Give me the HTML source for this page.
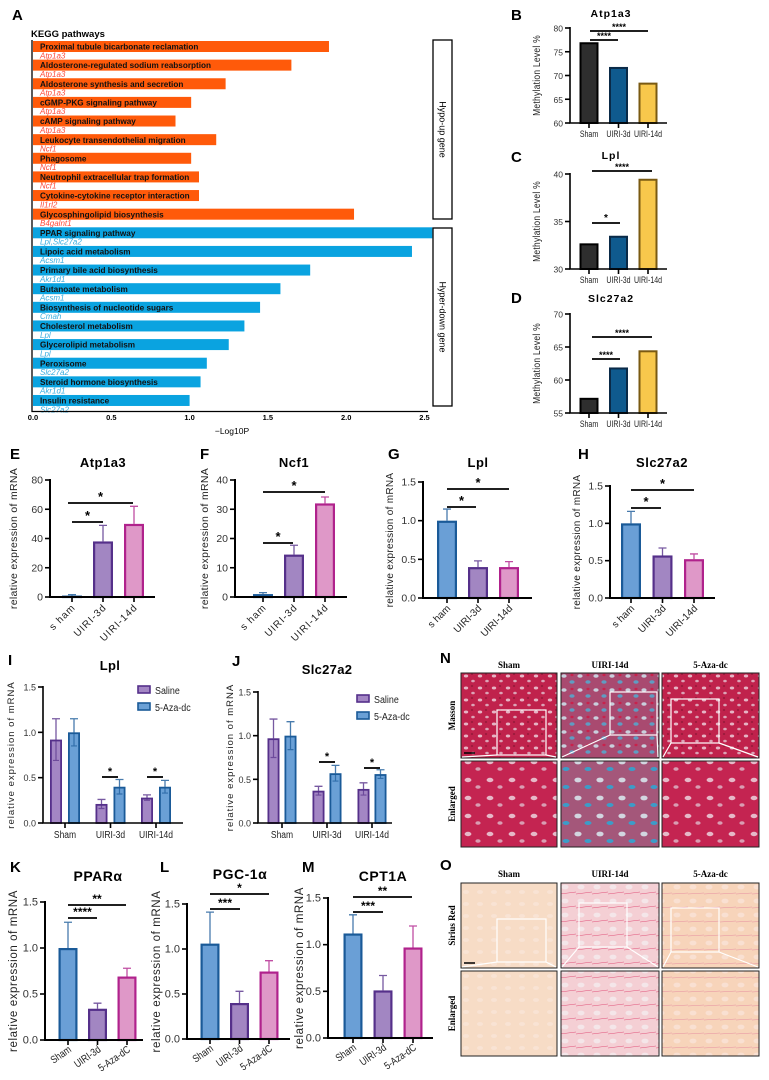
<!DOCTYPE html>
<html><head><meta charset="utf-8">
<style>
html,body{margin:0;padding:0;background:#fff;}
svg{display:block;font-family:"Liberation Sans",sans-serif;}
</style></head>
<body>
<svg id="fig" width="769" height="1080" viewBox="0 0 769 1080" xmlns="http://www.w3.org/2000/svg">
<defs>
<pattern id="masson" width="14" height="12" patternUnits="userSpaceOnUse">
<rect width="14" height="12" fill="#c0224c"/>
<ellipse cx="4" cy="4" rx="2.2" ry="1.5" fill="#e6b4c4"/>
<ellipse cx="11" cy="9" rx="1.8" ry="1.3" fill="#dca3b6"/>
<ellipse cx="10" cy="2" rx="1.2" ry="1" fill="#9a1a3c"/>
</pattern>
<pattern id="massonF" width="16" height="14" patternUnits="userSpaceOnUse">
<rect width="16" height="14" fill="#a94a70"/>
<ellipse cx="4" cy="4" rx="2.6" ry="1.8" fill="#c9cfdc"/>
<ellipse cx="12" cy="10" rx="2.6" ry="1.8" fill="#5f9cc2"/>
<ellipse cx="12" cy="3" rx="1.6" ry="1.2" fill="#c8224c"/>
</pattern>
<pattern id="massonE" width="22" height="18" patternUnits="userSpaceOnUse">
<rect width="22" height="18" fill="#c42451"/>
<ellipse cx="6" cy="6" rx="3.4" ry="2.2" fill="#e6b8c8"/>
<ellipse cx="16" cy="13" rx="2.6" ry="1.8" fill="#d99db2"/>
</pattern>
<pattern id="massonEF" width="22" height="18" patternUnits="userSpaceOnUse">
<rect width="22" height="18" fill="#a4577a"/>
<ellipse cx="6" cy="6" rx="3.6" ry="2.4" fill="#d2d6e0"/>
<ellipse cx="16" cy="13" rx="3.5" ry="2" fill="#3c9cc8"/>
</pattern>
<pattern id="sirius" width="14" height="12" patternUnits="userSpaceOnUse">
<rect width="14" height="12" fill="#f7dcc6"/>
<ellipse cx="4" cy="4" rx="3" ry="2" fill="#f9e3d4"/>
</pattern>
<pattern id="siriusF" width="16" height="14" patternUnits="userSpaceOnUse">
<rect width="16" height="14" fill="#f4cfd4"/>
<ellipse cx="5" cy="5" rx="3.5" ry="2.4" fill="#f4e6e9"/>
<path d="M0 12 L16 10" stroke="#e0507a" stroke-width="0.6"/>
</pattern>
<pattern id="siriusA" width="16" height="14" patternUnits="userSpaceOnUse">
<rect width="16" height="14" fill="#f7d4ba"/>
<ellipse cx="5" cy="5" rx="3.5" ry="2.4" fill="#f9e0d2"/>
<path d="M0 12 L16 11" stroke="#e78ea0" stroke-width="0.5"/>
</pattern>
</defs>
</svg>
<script>
// ---------------- DATA ----------------
const keggPathways = ["Proximal tubule bicarbonate reclamation","Aldosterone-regulated sodium reabsorption","Aldosterone synthesis and secretion","cGMP-PKG signaling pathway","cAMP signaling pathway","Leukocyte transendothelial migration","Phagosome","Neutrophil extracellular trap formation","Cytokine-cytokine receptor interaction","Glycosphingolipid biosynthesis","PPAR signaling pathway","Lipoic acid metabolism","Primary bile acid biosynthesis","Butanoate metabolism","Biosynthesis of nucleotide sugars","Cholesterol metabolism","Glycerolipid metabolism","Peroxisome","Steroid hormone biosynthesis","Insulin resistance"];
const keggGenes = ["Atp1a3","Atp1a3","Atp1a3","Atp1a3","Atp1a3","Ncf1","Ncf1","Ncf1","Il1rl2","B4galnt1","Lpl,Slc27a2","Acsm1","Akr1d1","Acsm1","Cmah","Lpl","Lpl","Slc27a2","Akr1d1","Slc27a2"];
const keggValues = [1.89,1.65,1.23,1.01,0.91,1.17,1.01,1.06,1.06,2.05,2.55,2.42,1.77,1.58,1.45,1.35,1.25,1.11,1.07,1.00];
const keggGroup = ["up","up","up","up","up","up","up","up","up","up","down","down","down","down","down","down","down","down","down","down"];
const keggTicks = [0,0.5,1.0,1.5,2.0,2.5];

const methCats = ["Sham","UIRI-3d","UIRI-14d"];
const bVals = [77.0,71.8,68.5];
const bTicks = [60,65,70,75,80];
const cVals = [32.7,33.5,39.5];
const cTicks = [30,35,40];
const dVals = [57.3,61.9,64.5];
const dTicks = [55,60,65,70];

const ehCats = ["s ham","UIRI-3d","UIRI-14d"];
const eVals = [1.0,38,50];
const eErr = [0.6,11,12];
const eTicks = [0,20,40,60,80];
const fVals = [1.0,14.5,32];
const fErr = [0.5,3.2,2.2];
const fTicks = [0,10,20,30,40];
const gVals = [1.0,0.40,0.40];
const gErr = [0.15,0.08,0.07];
const gTicks = [0.0,0.5,1.0,1.5];
const hVals = [1.0,0.57,0.52];
const hErr = [0.16,0.10,0.07];
const hTicks = [0.0,0.5,1.0,1.5];

const ijCats = ["Sham","UIRI-3d","UIRI-14d"];
const iSaline = [0.92,0.21,0.28];
const iSalineErr = [0.23,0.05,0.03];
const iAza = [1.0,0.40,0.40];
const iAzaErr = [0.15,0.08,0.07];
const jSaline = [0.97,0.37,0.39];
const jSalineErr = [0.22,0.05,0.07];
const jAza = [1.0,0.57,0.56];
const jAzaErr = [0.16,0.09,0.05];
const ijTicks = [0.0,0.5,1.0,1.5];

const kmCats = ["Sham","UIRI-3d","5-Aza-dC"];
const kVals = [1.0,0.34,0.69];
const kErr = [0.28,0.06,0.09];
const lVals = [1.06,0.40,0.75];
const lErr = [0.35,0.13,0.12];
const mVals = [1.12,0.51,0.97];
const mErr = [0.20,0.16,0.23];
const kmTicks = [0.0,0.5,1.0,1.5];

// ---------------- HELPERS ----------------
const NS = "http://www.w3.org/2000/svg";
const svg = document.getElementById('fig');
function mk(tag, attrs, parent){
  const e = document.createElementNS(NS, tag);
  for (const k in attrs) e.setAttribute(k, attrs[k]);
  (parent || svg).appendChild(e);
  return e;
}
function txt(str, attrs, parent){
  const e = mk('text', attrs, parent);
  e.textContent = str;
  return e;
}
function grp(name){
  const g = mk('g', {});
  
  
  return g;
}

// ---------------- PANEL A ----------------
(function(){
  const g = grp('panel-a-kegg-chart');
  const x0 = 33, pxPerUnit = 156.6, top = 41, pitch = 18.63, bh = 11;
  const xs = v => x0 + v * pxPerUnit;
  let t = txt('A', {x:12, y:20, 'font-size':15, 'font-weight':'bold'}, g);
  
  
  t = txt('KEGG  pathways', {x:31, y:37, 'font-size':9.5, 'font-weight':'bold'}, g);
  
  
  keggValues.forEach((v, i) => {
    const y = top + i * pitch;
    const up = keggGroup[i] === 'up';
    const r = mk('rect', {x:x0, y:y, width:xs(v) - x0, height:bh, fill: up ? '#ff5a0a' : '#0aa3e0'}, g);
    
    
    const n = txt(keggPathways[i], {x:40, y:y + 8.6, 'font-size':8.2, 'font-weight':'bold', fill:'#111'}, g);
    
    
    const gn = txt(keggGenes[i], {x:40, y:y + 17.3, 'font-size':8, 'font-style':'italic', fill: up ? '#ff4a3a' : '#3aaee0'}, g);
    
    
  });
  let ax = mk('path', {d:'M32 40 V411.5 H428', stroke:'#000', 'stroke-width':1.3, fill:'none'}, g);
  
  
  keggTicks.forEach(v => {
    const l = txt(v.toFixed(1), {x:xs(v), y:420, 'font-size':7.5, 'font-weight':'bold', 'text-anchor':'middle'}, g);
    
    
  });
  t = txt('\u2212Log10P', {x:232, y:434, 'font-size':8.5, 'text-anchor':'middle'}, g);
  
  
  let b = mk('rect', {x:433, y:40, width:19, height:179, fill:'#fff', stroke:'#000', 'stroke-width':1.3}, g);
  
  
  t = txt('Hypo-up gene', {x:0, y:0, 'font-size':9, 'text-anchor':'middle', transform:'translate(439.5,129.5) rotate(90)'}, g);
  
  
  b = mk('rect', {x:433, y:228, width:19, height:178, fill:'#fff', stroke:'#000', 'stroke-width':1.3}, g);
  
  
  t = txt('Hyper-down gene', {x:0, y:0, 'font-size':9, 'text-anchor':'middle', transform:'translate(439.5,317) rotate(90)'}, g);
  
  
})();

// ---------------- GENERIC BAR PANEL ----------------
function barPanel(p){
  const g = grp(p.name);
  const ys = v => p.yBase - (v - p.vmin) / (p.vmax - p.vmin) * (p.yBase - p.yTop);
  const csx = p.catScale || 1;
  let t = txt(p.letter, {x:p.letterX, y:p.letterY, 'font-size':15, 'font-weight':'bold'}, g);
  
  
  t = txt(p.title, {x:p.titleX, y:p.titleY, 'font-size':p.titleSize || 13, 'font-weight':'bold', 'text-anchor':'middle', 'letter-spacing':p.titleLS || 0.5}, g);
  
  
  t = txt(p.ylabel, {x:0, y:0, 'font-size':p.ylabelSize || 10.5, 'text-anchor':'middle', 'letter-spacing':p.ylabelLS || 0.3, fill:'#222', transform:'translate(' + p.ylabelX + ',' + ((p.yBase + p.yTop) / 2) + ') rotate(-90) scale(' + (p.ylabelScale || 1) + ',1)'}, g);
  
  
  p.series.forEach((s) => {
    s.vals.forEach((v, i) => {
      const cx = p.c0 + i * p.step + (s.offset || 0);
      const y = ys(v);
      const fill = s.fills ? s.fills[i] : s.fill;
      const stroke = s.strokes ? s.strokes[i] : s.stroke;
      if (s.errs) {
        const ye = ys(v + s.errs[i]);
        const e = mk('path', {d:'M' + cx + ' ' + y + ' V' + ye + ' M' + (cx - 4) + ' ' + ye + ' H' + (cx + 4), stroke: stroke, 'stroke-width':1.3, fill:'none', opacity:0.8}, g);
        
        
      }
      const sw = p.sw || 2.2;
      const r = mk('rect', {x:cx - p.bw / 2 + sw / 2, y:y + sw / 2, width:p.bw - sw, height:Math.max(0, p.yBase - y - sw / 2), fill:fill, stroke:stroke, 'stroke-width':sw}, g);
      
      
      if (s.errs && s.both) {
        const yl = ys(v - s.errs[i]);
        const e2 = mk('path', {d:'M' + cx + ' ' + y + ' V' + yl + ' M' + (cx - 3) + ' ' + yl + ' H' + (cx + 3), stroke: stroke, 'stroke-width':1.2, fill:'none', opacity:0.7}, g);
        
        
      }
    });
  });
  const ax = mk('path', {d:'M' + p.axisX + ' ' + (p.yTop - 1) + ' V' + p.yBase + ' H' + p.xEnd, stroke:'#000', 'stroke-width':p.axisW || 2, fill:'none'}, g);
  
  
  p.ticks.forEach(v => {
    const y = ys(v);
    const tk = mk('line', {x1:p.axisX - 5, x2:p.axisX, y1:y, y2:y, stroke:'#000', 'stroke-width':1.6}, g);
    
    
    const l = txt(p.tickFmt ? p.tickFmt(v) : String(v), {x:p.axisX - 7, y:y + 3.5, 'font-size':p.tickSize || 10.5, 'text-anchor':'end', fill:'#333'}, g);
    
    
  });
  p.cats.forEach((c, i) => {
    const cx = p.c0 + i * p.step;
    const tk = mk('line', {x1:cx, x2:cx, y1:p.yBase, y2:p.yBase + 5, stroke:'#000', 'stroke-width':1.6}, g);
    
    
    let l;
    if (p.rot) {
      l = txt(c, {x:0, y:0, 'font-size':p.catSize || 10, 'text-anchor':'end', 'letter-spacing':p.catLS || 0, fill:'#222', transform:'translate(' + (cx + 4) + ',' + (p.yBase + 11) + ') rotate(' + p.rot + ') scale(' + csx + ',1)'}, g);
    } else {
      l = txt(c, {x:0, y:0, 'font-size':p.catSize || 9.5, 'text-anchor':'middle', fill:'#222', transform:'translate(' + cx + ',' + (p.yBase + (p.catDy || 14)) + ') scale(' + csx + ',1)'}, g);
    }
    
    
  });
  (p.sig || []).forEach(s => {
    const x1 = s[0], x2 = s[1], y = s[2];
    const ln = mk('line', {x1:x1, x2:x2, y1:y, y2:y, stroke:'#000', 'stroke-width':1.8}, g);
    
    
    const st = txt(s[3], {x:(x1 + x2) / 2, y:y - (s[4] || 2), 'font-size':s[5] || 13, 'font-weight':'bold', 'text-anchor':'middle'}, g);
    
    
  });
  return g;
}

const ehFills = ['#6a9fd6','#a286c2','#df98c8'];
const ehStrokes = ['#1a5a98','#55308a','#b0228c'];

// B, C, D
const bdFills = ['#2e2e2e','#0f5a8e','#f8c84c'];
const bdStrokes = ['#000','#0a2a48','#7a5a12'];
const bdCommon = {vmin:0, axisX:570, xEnd:667, c0:589, step:29.5, bw:19, sw:2, cats:methCats, ylabel:'Methylation Level %', ylabelX:540, ylabelSize:10, ylabelLS:0, ylabelScale:0.85, tickSize:8.5, catSize:9, catScale:0.78, letterX:511, titleX:611, titleSize:10.5, titleLS:1, axisW:1.6, tickFmt:v=>String(v)};
barPanel(Object.assign({}, bdCommon, {name:'panel-b-atp1a3-methylation', letter:'B', letterY:20, title:'Atp1a3', titleY:17, yBase:123, yTop:28, vmin:60, vmax:80, ticks:bTicks, series:[{vals:bVals, fills:bdFills, strokes:bdStrokes}], catDy:14, sig:[[590,618,40,'****',1,9],[590,648,31,'****',1,9]]}));
barPanel(Object.assign({}, bdCommon, {name:'panel-c-lpl-methylation', letter:'C', letterY:162, title:'Lpl', titleY:159, yBase:269, yTop:174, vmin:30, vmax:40, ticks:cTicks, series:[{vals:cVals, fills:bdFills, strokes:bdStrokes}], catDy:14, sig:[[592,620,223,'*',2,10],[592,652,171,'****',1,9]]}));
barPanel(Object.assign({}, bdCommon, {name:'panel-d-slc27a2-methylation', letter:'D', letterY:303, title:'Slc27a2', titleY:302, yBase:413, yTop:314, vmin:55, vmax:70, ticks:dTicks, series:[{vals:dVals, fills:bdFills, strokes:bdStrokes}], catDy:14, sig:[[592,620,359,'****',1,9],[592,652,337,'****',1,9]]}));

// E-H
const ehCommon = {vmin:0, cats:ehCats, rot:-45, catSize:10, ylabel:'relative  expression of mRNA', bw:20, step:31, titleY:467};
barPanel(Object.assign({}, ehCommon, {name:'panel-e-atp1a3-mrna', letter:'E', letterX:10, letterY:459, title:'Atp1a3', titleX:103, axisX:50, xEnd:155, yBase:597, yTop:480, vmax:80, ticks:eTicks, c0:72, catLS:1, ylabelX:17, series:[{vals:eVals, errs:eErr, fills:ehFills, strokes:ehStrokes}], sig:[[72,103,522,'*',2],[68,133,503,'*',2]]}));
barPanel(Object.assign({}, ehCommon, {name:'panel-f-ncf1-mrna', letter:'F', letterX:200, letterY:459, title:'Ncf1', titleX:294, axisX:235, xEnd:347, yBase:597, yTop:480, vmax:40, ticks:fTicks, c0:263, catLS:1, ylabelX:208, series:[{vals:fVals, errs:fErr, fills:ehFills, strokes:ehStrokes}], sig:[[263,293,543,'*',2],[263,325,492,'*',2]]}));
barPanel(Object.assign({}, ehCommon, {name:'panel-g-lpl-mrna', letter:'G', letterX:388, letterY:459, title:'Lpl', titleX:478, axisX:423, xEnd:532, yBase:598, yTop:482, vmax:1.5, ticks:gTicks, tickFmt:v=>v.toFixed(1), c0:447, step:31, ylabelX:393, ylabelSize:10, series:[{vals:gVals, errs:gErr, fills:ehFills, strokes:ehStrokes}], sig:[[447,476,507,'*',2],[447,509,489,'*',2]]}));
barPanel(Object.assign({}, ehCommon, {name:'panel-h-slc27a2-mrna', letter:'H', letterX:578, letterY:459, title:'Slc27a2', titleX:662, axisX:610, xEnd:715, yBase:598, yTop:486, vmax:1.5, ticks:hTicks, tickFmt:v=>v.toFixed(1), c0:631, step:31.5, ylabelX:580, ylabelSize:10, series:[{vals:hVals, errs:hErr, fills:ehFills, strokes:ehStrokes}], sig:[[631,661,508,'*',2],[631,694,490,'*',2]]}));

// I, J
function legend(x, y){
  const g = grp('legend');
  const items = [['Saline','#a386c4','#55308a'],['5-Aza-dc','#6aa0d6','#1a5a98']];
  items.forEach((it, i) => {
    const r = mk('rect', {x:x, y:y + i * 17, width:12, height:7, fill:it[1], stroke:it[2], 'stroke-width':1.6}, g);
    
    
    const t = txt(it[0], {x:0, y:0, 'font-size':10.5, fill:'#222', transform:'translate(' + (x + 17) + ',' + (y + i * 17 + 8) + ') scale(0.85,1)'}, g);
    
    
  });
}
const ijCommon = {vmin:0, vmax:1.5, cats:ijCats, ticks:ijTicks, tickFmt:v=>v.toFixed(1), tickSize:9, ylabel:'relative  expression of mRNA', ylabelSize:9.5, ylabelLS:1, bw:12, sw:1.8, step:45.5, catScale:0.85, catSize:10, catDy:15, axisW:1.6, titleSize:13, titleLS:0.3};
barPanel(Object.assign({}, ijCommon, {name:'panel-i-lpl-treatment', letter:'I', letterX:8, letterY:665, title:'Lpl', titleX:110, titleY:670, axisX:43, xEnd:183, yBase:823, yTop:687, c0:65, ylabelX:14, series:[{vals:iSaline, errs:iSalineErr, both:true, fill:'#a386c4', stroke:'#55308a', offset:-9},{vals:iAza, errs:iAzaErr, both:true, fill:'#6aa0d6', stroke:'#1a5a98', offset:9}], sig:[[102,118,777,'*',2,11],[147,163,777,'*',2,11]]}));
legend(138, 686);
barPanel(Object.assign({}, ijCommon, {name:'panel-j-slc27a2-treatment', letter:'J', letterX:232, letterY:666, title:'Slc27a2', titleX:327, titleY:674, axisX:258, xEnd:392, yBase:823, yTop:692, c0:282, step:45, ylabelX:233, series:[{vals:jSaline, errs:jSalineErr, both:true, fill:'#a386c4', stroke:'#55308a', offset:-8.5},{vals:jAza, errs:jAzaErr, both:true, fill:'#6aa0d6', stroke:'#1a5a98', offset:8.5}], sig:[[319,335,762,'*',2,11],[364,380,768,'*',2,11]]}));
legend(357, 695);

// K, L, M
const kmCommon = {vmin:0, vmax:1.5, cats:kmCats, ticks:kmTicks, tickFmt:v=>v.toFixed(1), tickSize:11, rot:-35, catSize:10.5, catScale:0.82, ylabel:'relative  expression of mRNA', ylabelSize:11.5, ylabelLS:0.6, bw:19, step:29.5, titleY:881, titleSize:14, titleLS:0};
barPanel(Object.assign({}, kmCommon, {name:'panel-k-ppara-mrna', letter:'K', letterX:10, letterY:872, title:'PPAR\u03b1', titleX:98, axisX:45, xEnd:143, yBase:1040, yTop:902, c0:68, ylabelX:17, series:[{vals:kVals, errs:kErr, fills:ehFills, strokes:ehStrokes}], sig:[[68,97,918,'****',2,12],[68,126,905,'**',2,12]]}));
barPanel(Object.assign({}, kmCommon, {name:'panel-l-pgc1a-mrna', letter:'L', letterX:160, letterY:872, title:'PGC-1\u03b1', titleX:240, titleY:879, axisX:187, xEnd:290, yBase:1039, yTop:904, c0:210, ylabelX:160, series:[{vals:lVals, errs:lErr, fills:ehFills, strokes:ehStrokes}], sig:[[210,240,909,'***',2,12],[210,269,894,'*',2,12]]}));
barPanel(Object.assign({}, kmCommon, {name:'panel-m-cpt1a-mrna', letter:'M', letterX:302, letterY:872, title:'CPT1A', titleX:383, axisX:328, xEnd:433, yBase:1038, yTop:898, c0:353, step:30, ylabelX:303, series:[{vals:mVals, errs:mErr, fills:ehFills, strokes:ehStrokes}], sig:[[353,383,912,'***',2,12],[353,412,897,'**',2,12]]}));

// ---------------- HISTOLOGY PANELS N & O ----------------
function histo(name, letter, letterY, headY, rowLabels, rows, fills, boxes){
  const g = grp(name);
  let t = txt(letter, {x:440, y:letterY, 'font-size':15, 'font-weight':'bold'}, g);
  
  
  const cols = [[461,557],[561,659],[662,759]];
  const heads = ['Sham','UIRI-14d','5-Aza-dc'];
  heads.forEach((h, i) => {
    const l = txt(h, {x:(cols[i][0] + cols[i][1]) / 2, y:headY, 'font-size':9, 'font-weight':'bold', 'text-anchor':'middle', style:'font-family:"Liberation Serif",serif;'}, g);
    
    
  });
  rows.forEach((r, ri) => {
    const lb = txt(rowLabels[ri], {x:0, y:0, 'font-size':9, 'font-weight':'bold', 'text-anchor':'middle', style:'font-family:"Liberation Serif",serif;', transform:'translate(455,' + ((r[0] + r[1]) / 2) + ') rotate(-90)'}, g);
    
    
    cols.forEach((c, ci) => {
      const im = mk('rect', {x:c[0], y:r[0], width:c[1] - c[0], height:r[1] - r[0], fill:fills[ri][ci], stroke:'#222', 'stroke-width':1}, g);
      
      
      if (ri === 0) {
        const b = boxes[ci];
        const bx = mk('rect', {x:b[0], y:b[1], width:b[2] - b[0], height:b[3] - b[1], fill:'none', stroke:'#fff', 'stroke-width':1.2}, g);
        
        
        const zl = mk('path', {d:'M' + b[0] + ' ' + b[3] + ' L' + (c[0] + 1) + ' ' + (r[1] - 1) + ' M' + b[2] + ' ' + b[3] + ' L' + (c[1] - 1) + ' ' + (r[1] - 1), stroke:'#fff', 'stroke-width':1.2, fill:'none'}, g);
        
        
      }
    });
  });
  const sb = mk('line', {x1:464, x2:475, y1:rows[0][1] - 5, y2:rows[0][1] - 5, stroke:'#000', 'stroke-width':1.5}, g);
  
  
}
histo('panel-n-masson', 'N', 663, 668, ['Masson','Enlarged'], [[673,758],[761,847]],
  [['url(#masson)','url(#massonF)','url(#masson)'],['url(#massonE)','url(#massonEF)','url(#massonE)']],
  [[497,710,546,755],[610,692,657,735],[671,699,719,743]]);
histo('panel-o-sirius-red', 'O', 870, 877, ['Sirius Red','Enlarged'], [[883,968],[971,1056]],
  [['url(#sirius)','url(#siriusF)','url(#siriusA)'],['url(#sirius)','url(#siriusF)','url(#siriusA)']],
  [[497,919,546,962],[579,903,627,947],[671,908,719,952]]);
</script>
</body></html>
